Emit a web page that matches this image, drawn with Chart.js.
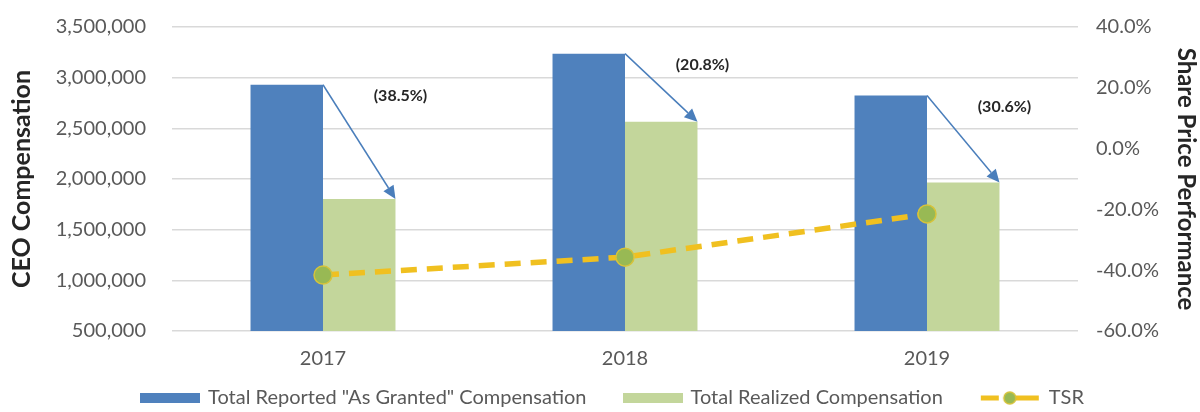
<!DOCTYPE html>
<html><head><meta charset="utf-8">
<script src="https://cdn.jsdelivr.net/npm/chart.js@4"></script>
<style>html,body{margin:0;padding:0;background:#fff;} #wrap{width:1200px;height:412px;position:relative;}</style>
</head><body><div id="wrap"><canvas id="c"></canvas></div>
<script>
const categories = ['2017', '2018', '2019'];
const grantedComp = [2930000, 3237000, 2825000];
const realizedComp = [1803000, 2565000, 1965000];
const tsrPct = [-41.6, -35.7, -21.5];
const changeLabels = ['(38.5%)', '(20.8%)', '(30.6%)'];
const seriesNames = ['Total Reported "As Granted" Compensation', 'Total Realized Compensation', 'TSR'];

const BLUE = '#4F81BD', GREEN = '#C3D69B', GOLD = '#F0C020', OLIVE = '#98B954';
const FONT = 'Lato, "Open Sans", sans-serif';

function rectSwatch(color) {
  const c = document.createElement('canvas'); c.width = 60; c.height = 10;
  const x = c.getContext('2d'); x.fillStyle = color; x.fillRect(0, 0, 60, 10); return c;
}
function lineSwatch() {
  const c = document.createElement('canvas'); c.width = 62; c.height = 18;
  const x = c.getContext('2d');
  x.strokeStyle = GOLD; x.lineWidth = 5;
  x.beginPath(); x.moveTo(2, 9); x.lineTo(20, 9); x.moveTo(34, 9); x.lineTo(60, 9); x.stroke();
  x.beginPath(); x.arc(31, 9, 6, 0, Math.PI * 2); x.fillStyle = OLIVE; x.fill();
  x.lineWidth = 1.5; x.strokeStyle = '#D6C33A'; x.stroke();
  return c;
}
const swatches = [rectSwatch(BLUE), rectSwatch(GREEN), lineSwatch()];

// category labels (placed through the x scale) and the legend row beneath them
const bottomText = {
  id: 'bottomText',
  afterDraw(chart) {
    const ctx = chart.ctx;
    const o = chart.options.plugins.bottomText;
    const xs = chart.scales.x;
    const base = chart.chartArea.bottom;
    ctx.save();
    ctx.font = o.size + 'px ' + FONT;
    ctx.fillStyle = '#595959';
    ctx.textAlign = 'center'; ctx.textBaseline = 'middle';
    categories.forEach((c, i) => ctx.fillText(c, xs.getPixelForTick(i), base + o.tickOffset));

    const widths = seriesNames.map((t, i) => swatches[i].width + o.gap + ctx.measureText(t).width);
    const total = widths.reduce((a, b) => a + b, 0) + o.spacing * (widths.length - 1);
    let x = o.centerX - total / 2;
    const y = base + o.legendOffset;
    ctx.textAlign = 'left';
    seriesNames.forEach((t, i) => {
      const s = swatches[i];
      ctx.drawImage(s, x, y - s.height / 2);
      ctx.fillText(t, x + s.width + o.gap, y);
      x += widths[i] + o.spacing;
    });
    ctx.restore();
  }
};

const arrowPlugin = {
  id: 'arrows',
  afterDatasetsDraw(chart) {
    const ctx = chart.ctx;
    const m0 = chart.getDatasetMeta(1), m1 = chart.getDatasetMeta(2);
    ctx.save();
    m0.data.forEach((b, i) => {
      const g = m1.data[i];
      const x1 = b.x + b.width / 2, y1 = b.y;
      const x2 = g.x + g.width / 2, y2 = g.y;
      const ang = Math.atan2(y2 - y1, x2 - x1);
      const L = 13, W = 6;
      const bx = x2 - L * Math.cos(ang), by = y2 - L * Math.sin(ang);
      ctx.strokeStyle = '#4A7EBB'; ctx.fillStyle = '#4A7EBB'; ctx.lineWidth = 1.5;
      ctx.beginPath(); ctx.moveTo(x1, y1); ctx.lineTo(bx, by); ctx.stroke();
      ctx.beginPath(); ctx.moveTo(x2, y2);
      ctx.lineTo(bx + W * Math.sin(ang), by - W * Math.cos(ang));
      ctx.lineTo(bx - W * Math.sin(ang), by + W * Math.cos(ang));
      ctx.closePath(); ctx.fill();
      ctx.font = 'bold 16px ' + FONT; ctx.fillStyle = '#262626';
      ctx.textAlign = 'center'; ctx.textBaseline = 'middle';
      ctx.fillText(changeLabels[i], x2 + 5, y1 + 11);
    });
    ctx.restore();
  }
};

new Chart(document.getElementById('c'), {
  type: 'bar',
  data: {
    labels: categories,
    datasets: [
      { type: 'line', label: seriesNames[2], data: tsrPct, yAxisID: 'y2', order: 0,
        borderColor: GOLD, borderWidth: 5.5, borderDash: [16, 10], fill: false, tension: 0,
        pointRadius: 9, pointBackgroundColor: OLIVE, pointBorderColor: '#D6C33A', pointBorderWidth: 1.5 },
      { label: seriesNames[0], data: grantedComp, backgroundColor: BLUE, yAxisID: 'y', order: 1,
        barPercentage: 1, categoryPercentage: 0.48 },
      { label: seriesNames[1], data: realizedComp, backgroundColor: GREEN, yAxisID: 'y', order: 1,
        barPercentage: 1, categoryPercentage: 0.48 }
    ]
  },
  options: {
    responsive: true, maintainAspectRatio: false, animation: false, devicePixelRatio: 1,
    layout: { padding: { top: 0, left: 0, right: 0, bottom: 41 } },
    plugins: {
      tooltip: { enabled: false },
      legend: { display: false },
      bottomText: { size: 20, gap: 8, spacing: 36, centerX: 612, tickOffset: 28, legendOffset: 67 }
    },
    scales: {
      x: {
        offset: true, grid: { display: false }, border: { display: false },
        ticks: { display: false },
        afterFit: s => { s.height = 40; }
      },
      y: {
        position: 'left', min: 500000, max: 3500000,
        ticks: { stepSize: 500000, font: { family: FONT, size: 20 }, color: '#595959', padding: 15,
          callback: v => Number(v).toLocaleString('en-US') },
        grid: { color: '#D9D9D9', drawTicks: true, tickLength: 11, tickColor: 'rgba(0,0,0,0)', lineWidth: 1.5 },
        border: { display: false },
        title: { display: true, text: 'CEO Compensation', font: { family: FONT, size: 25, weight: 'bold' },
          color: '#262626', padding: { top: 7, bottom: 0 } },
        afterFit: s => { s.width = 172; }
      },
      y2: {
        position: 'right', min: -60, max: 40,
        ticks: { stepSize: 20, font: { family: FONT, size: 20 }, color: '#595959', padding: 15,
          callback: v => Number(v).toFixed(1) + '%' },
        grid: { display: false, drawTicks: true, tickLength: 3, tickColor: 'rgba(0,0,0,0)' }, border: { display: false },
        title: { display: true, text: 'Share Price Performance', font: { family: FONT, size: 24, weight: 'bold' },
          color: '#262626', padding: { top: 0, bottom: 0 } },
        afterFit: s => { s.width = 122; }
      }
    }
  },
  plugins: [arrowPlugin, bottomText]
});
</script></body></html>
